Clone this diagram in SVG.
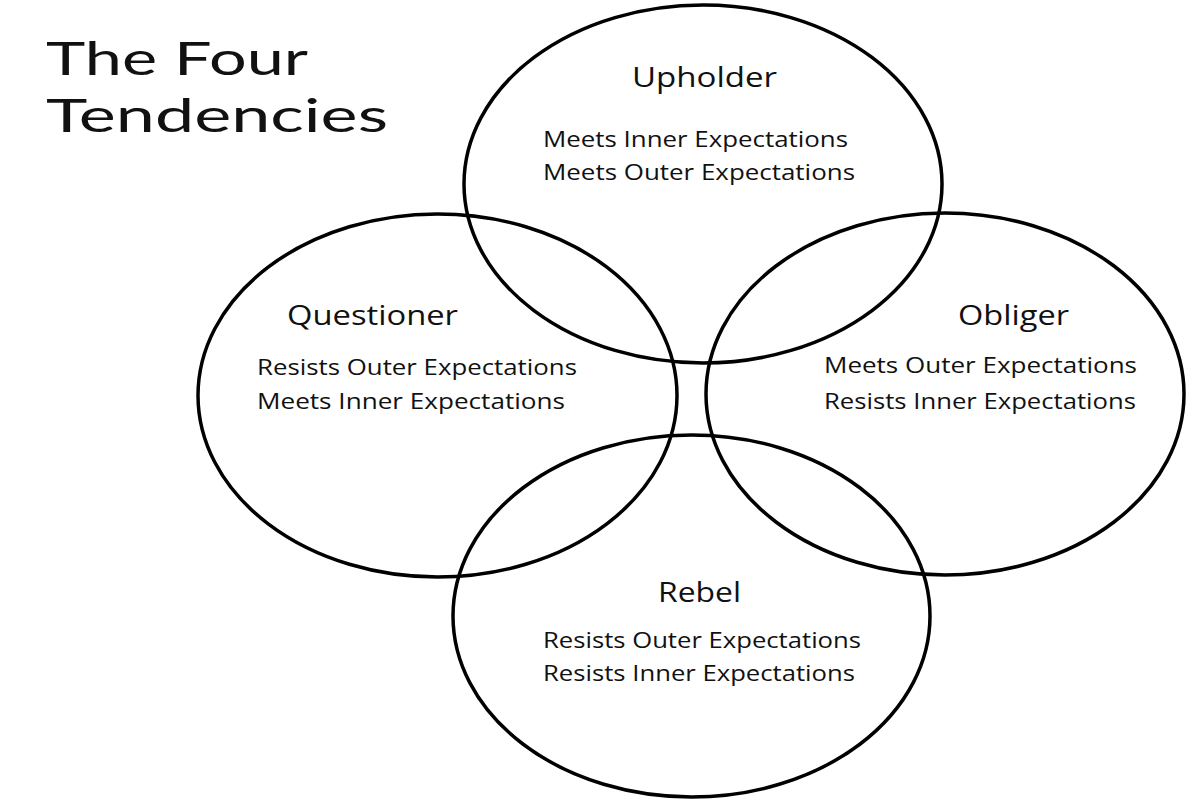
<svg xmlns="http://www.w3.org/2000/svg" width="1200" height="800" viewBox="0 0 1200 800">
<style>
.c{fill:none;stroke:#000;stroke-width:3.5}
.t{font-family:"Open Sans","Liberation Sans",sans-serif;fill:#111}
.title{font-family:Lato,"Liberation Sans",sans-serif;font-size:47px}
.h{font-size:27px}
.b{font-size:21px}
</style>
<rect width="1200" height="800" fill="#fff"/>
<g id="title">
<text class="t title" x="46" y="75" textLength="262" lengthAdjust="spacingAndGlyphs">The Four</text>
<text class="t title" x="46" y="132" textLength="342" lengthAdjust="spacingAndGlyphs">Tendencies</text>
</g>
<g id="connectors"></g>
<g id="upholder">
<ellipse class="c" cx="703" cy="184" rx="239" ry="179"/>
<text class="t h" x="632" y="87" textLength="145" lengthAdjust="spacingAndGlyphs">Upholder</text>
<text class="t b" x="543" y="147" textLength="305" lengthAdjust="spacingAndGlyphs">Meets Inner Expectations</text>
<text class="t b" x="543" y="180" textLength="312" lengthAdjust="spacingAndGlyphs">Meets Outer Expectations</text>
</g>
<g id="questioner">
<ellipse class="c" cx="437.5" cy="395.5" rx="239.5" ry="181.5"/>
<text class="t h" x="287" y="325" textLength="171" lengthAdjust="spacingAndGlyphs">Questioner</text>
<text class="t b" x="257" y="375" textLength="320" lengthAdjust="spacingAndGlyphs">Resists Outer Expectations</text>
<text class="t b" x="257" y="409" textLength="308" lengthAdjust="spacingAndGlyphs">Meets Inner Expectations</text>
</g>
<g id="obliger">
<ellipse class="c" cx="945" cy="394" rx="239" ry="181"/>
<text class="t h" x="958" y="325" textLength="111" lengthAdjust="spacingAndGlyphs">Obliger</text>
<text class="t b" x="824" y="373" textLength="313" lengthAdjust="spacingAndGlyphs">Meets Outer Expectations</text>
<text class="t b" x="824" y="409" textLength="312" lengthAdjust="spacingAndGlyphs">Resists Inner Expectations</text>
</g>
<g id="rebel">
<ellipse class="c" cx="691.5" cy="616" rx="238.5" ry="181"/>
<text class="t h" x="658" y="602" textLength="83" lengthAdjust="spacingAndGlyphs">Rebel</text>
<text class="t b" x="543" y="648" textLength="318" lengthAdjust="spacingAndGlyphs">Resists Outer Expectations</text>
<text class="t b" x="543" y="681" textLength="312" lengthAdjust="spacingAndGlyphs">Resists Inner Expectations</text>
</g>
</svg>
